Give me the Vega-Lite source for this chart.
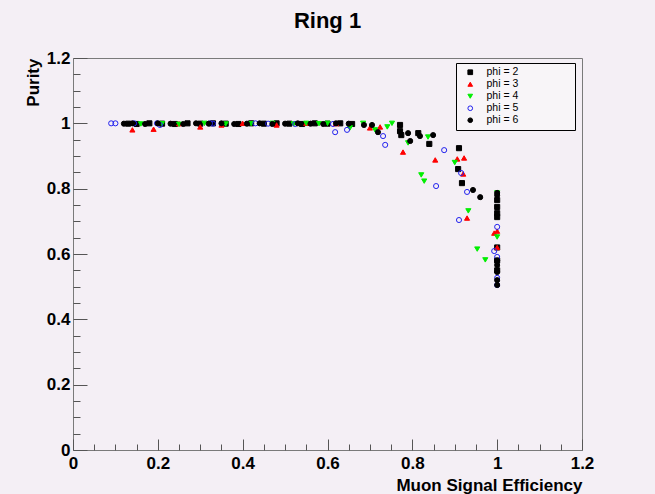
{
  "$schema": "https://vega.github.io/schema/vega-lite/v6.json",
  "width": 509,
  "height": 392,
  "autosize": "none",
  "padding": {"left": 73, "top": 58, "right": 73, "bottom": 44},
  "background": "#f4eff5",
  "title": {"text": "Ring 1", "font": "Liberation Sans", "fontSize": 22, "fontWeight": "bold", "color": "#000000", "offset": 16, "anchor": "middle"},
  "config": {
    "view": {"stroke": "#7a7a7a", "strokeWidth": 1, "fill": "#f4eff5"},
    "axis": {"grid": false, "domain": false, "labelFont": "Liberation Sans", "labelFontWeight": "bold", "labelFontSize": 17, "labelColor": "#000000", "titleFont": "Liberation Sans", "titleFontWeight": "bold", "titleFontSize": 17, "titleColor": "#000000", "tickColor": "#555555", "labelFlush": false, "labelOverlap": false},
    "legend": {"orient": "none", "legendX": 383, "legendY": 5, "padding": 4, "rowPadding": 1, "symbolSize": 22, "symbolStrokeWidth": 1, "symbolOffset": 5, "labelOffset": 11, "labelFont": "Liberation Sans", "labelFontSize": 10.5, "labelColor": "#000000", "fillColor": "#f8f5f8", "strokeColor": "#000000", "labelLimit": 300}
  },
  "data": {"values": [
    {"phi": "phi = 2", "eff": 0.13, "pur": 0.999},
    {"phi": "phi = 2", "eff": 0.15, "pur": 0.998},
    {"phi": "phi = 2", "eff": 0.18, "pur": 1.0},
    {"phi": "phi = 2", "eff": 0.21, "pur": 0.999},
    {"phi": "phi = 2", "eff": 0.24, "pur": 0.998},
    {"phi": "phi = 2", "eff": 0.27, "pur": 1.0},
    {"phi": "phi = 2", "eff": 0.30, "pur": 0.999},
    {"phi": "phi = 2", "eff": 0.33, "pur": 1.0},
    {"phi": "phi = 2", "eff": 0.36, "pur": 0.999},
    {"phi": "phi = 2", "eff": 0.39, "pur": 0.998},
    {"phi": "phi = 2", "eff": 0.42, "pur": 1.0},
    {"phi": "phi = 2", "eff": 0.45, "pur": 0.999},
    {"phi": "phi = 2", "eff": 0.48, "pur": 1.0},
    {"phi": "phi = 2", "eff": 0.51, "pur": 0.999},
    {"phi": "phi = 2", "eff": 0.54, "pur": 0.998},
    {"phi": "phi = 2", "eff": 0.57, "pur": 1.0},
    {"phi": "phi = 2", "eff": 0.60, "pur": 0.999},
    {"phi": "phi = 2", "eff": 0.63, "pur": 1.0},
    {"phi": "phi = 2", "eff": 0.658, "pur": 0.998},
    {"phi": "phi = 2", "eff": 0.771, "pur": 0.995},
    {"phi": "phi = 2", "eff": 0.771, "pur": 0.976},
    {"phi": "phi = 2", "eff": 0.774, "pur": 0.964},
    {"phi": "phi = 2", "eff": 0.814, "pur": 0.970},
    {"phi": "phi = 2", "eff": 0.840, "pur": 0.937},
    {"phi": "phi = 2", "eff": 0.910, "pur": 0.924},
    {"phi": "phi = 2", "eff": 0.908, "pur": 0.860},
    {"phi": "phi = 2", "eff": 0.917, "pur": 0.817},
    {"phi": "phi = 2", "eff": 1.0, "pur": 0.765},
    {"phi": "phi = 2", "eff": 1.0, "pur": 0.744},
    {"phi": "phi = 2", "eff": 1.0, "pur": 0.725},
    {"phi": "phi = 2", "eff": 1.0, "pur": 0.713},
    {"phi": "phi = 2", "eff": 1.0, "pur": 0.62},
    {"phi": "phi = 2", "eff": 1.0, "pur": 0.58},
    {"phi": "phi = 2", "eff": 1.0, "pur": 0.55},
    {"phi": "phi = 3", "eff": 0.14, "pur": 0.98},
    {"phi": "phi = 3", "eff": 0.19, "pur": 0.982},
    {"phi": "phi = 3", "eff": 0.25, "pur": 0.999},
    {"phi": "phi = 3", "eff": 0.30, "pur": 0.989},
    {"phi": "phi = 3", "eff": 0.35, "pur": 0.995},
    {"phi": "phi = 3", "eff": 0.40, "pur": 1.0},
    {"phi": "phi = 3", "eff": 0.48, "pur": 0.995},
    {"phi": "phi = 3", "eff": 0.55, "pur": 1.0},
    {"phi": "phi = 3", "eff": 0.62, "pur": 0.999},
    {"phi": "phi = 3", "eff": 0.70, "pur": 0.986},
    {"phi": "phi = 3", "eff": 0.724, "pur": 0.989},
    {"phi": "phi = 3", "eff": 0.778, "pur": 0.912},
    {"phi": "phi = 3", "eff": 0.854, "pur": 0.888},
    {"phi": "phi = 3", "eff": 0.906, "pur": 0.891},
    {"phi": "phi = 3", "eff": 0.922, "pur": 0.894},
    {"phi": "phi = 3", "eff": 0.92, "pur": 0.845},
    {"phi": "phi = 3", "eff": 0.929, "pur": 0.71},
    {"phi": "phi = 3", "eff": 0.993, "pur": 0.664},
    {"phi": "phi = 3", "eff": 1.0, "pur": 0.670},
    {"phi": "phi = 3", "eff": 1.0, "pur": 0.62},
    {"phi": "phi = 4", "eff": 0.16, "pur": 0.998},
    {"phi": "phi = 4", "eff": 0.21, "pur": 0.999},
    {"phi": "phi = 4", "eff": 0.25, "pur": 0.997},
    {"phi": "phi = 4", "eff": 0.31, "pur": 1.0},
    {"phi": "phi = 4", "eff": 0.36, "pur": 0.998},
    {"phi": "phi = 4", "eff": 0.42, "pur": 0.999},
    {"phi": "phi = 4", "eff": 0.47, "pur": 1.0},
    {"phi": "phi = 4", "eff": 0.52, "pur": 0.998},
    {"phi": "phi = 4", "eff": 0.55, "pur": 1.0},
    {"phi": "phi = 4", "eff": 0.58, "pur": 0.999},
    {"phi": "phi = 4", "eff": 0.60, "pur": 1.0},
    {"phi": "phi = 4", "eff": 0.653, "pur": 0.986},
    {"phi": "phi = 4", "eff": 0.684, "pur": 1.0},
    {"phi": "phi = 4", "eff": 0.712, "pur": 0.98},
    {"phi": "phi = 4", "eff": 0.741, "pur": 0.989},
    {"phi": "phi = 4", "eff": 0.752, "pur": 1.0},
    {"phi": "phi = 4", "eff": 0.79, "pur": 0.94},
    {"phi": "phi = 4", "eff": 0.837, "pur": 0.958},
    {"phi": "phi = 4", "eff": 0.90, "pur": 0.88},
    {"phi": "phi = 4", "eff": 0.821, "pur": 0.842},
    {"phi": "phi = 4", "eff": 0.828, "pur": 0.823},
    {"phi": "phi = 4", "eff": 0.932, "pur": 0.732},
    {"phi": "phi = 4", "eff": 0.953, "pur": 0.615},
    {"phi": "phi = 4", "eff": 0.972, "pur": 0.582},
    {"phi": "phi = 4", "eff": 1.0, "pur": 0.652},
    {"phi": "phi = 4", "eff": 1.0, "pur": 0.787},
    {"phi": "phi = 5", "eff": 0.09, "pur": 1.0},
    {"phi": "phi = 5", "eff": 0.10, "pur": 1.0},
    {"phi": "phi = 5", "eff": 0.144, "pur": 1.0},
    {"phi": "phi = 5", "eff": 0.198, "pur": 1.0},
    {"phi": "phi = 5", "eff": 0.205, "pur": 0.995},
    {"phi": "phi = 5", "eff": 0.323, "pur": 1.0},
    {"phi": "phi = 5", "eff": 0.33, "pur": 0.999},
    {"phi": "phi = 5", "eff": 0.43, "pur": 1.0},
    {"phi": "phi = 5", "eff": 0.46, "pur": 0.999},
    {"phi": "phi = 5", "eff": 0.524, "pur": 0.998},
    {"phi": "phi = 5", "eff": 0.613, "pur": 0.998},
    {"phi": "phi = 5", "eff": 0.618, "pur": 0.973},
    {"phi": "phi = 5", "eff": 0.646, "pur": 0.98},
    {"phi": "phi = 5", "eff": 0.731, "pur": 0.961},
    {"phi": "phi = 5", "eff": 0.736, "pur": 0.934},
    {"phi": "phi = 5", "eff": 0.875, "pur": 0.918},
    {"phi": "phi = 5", "eff": 0.856, "pur": 0.808},
    {"phi": "phi = 5", "eff": 0.915, "pur": 0.848},
    {"phi": "phi = 5", "eff": 0.929, "pur": 0.79},
    {"phi": "phi = 5", "eff": 0.91, "pur": 0.704},
    {"phi": "phi = 5", "eff": 1.0, "pur": 0.683},
    {"phi": "phi = 5", "eff": 0.993, "pur": 0.609},
    {"phi": "phi = 5", "eff": 1.0, "pur": 0.591},
    {"phi": "phi = 5", "eff": 1.0, "pur": 0.527},
    {"phi": "phi = 5", "eff": 1.0, "pur": 0.505},
    {"phi": "phi = 6", "eff": 0.12, "pur": 0.999},
    {"phi": "phi = 6", "eff": 0.14, "pur": 1.0},
    {"phi": "phi = 6", "eff": 0.17, "pur": 0.998},
    {"phi": "phi = 6", "eff": 0.20, "pur": 1.0},
    {"phi": "phi = 6", "eff": 0.23, "pur": 0.999},
    {"phi": "phi = 6", "eff": 0.26, "pur": 0.998},
    {"phi": "phi = 6", "eff": 0.29, "pur": 1.0},
    {"phi": "phi = 6", "eff": 0.32, "pur": 0.999},
    {"phi": "phi = 6", "eff": 0.35, "pur": 1.0},
    {"phi": "phi = 6", "eff": 0.38, "pur": 0.998},
    {"phi": "phi = 6", "eff": 0.41, "pur": 0.999},
    {"phi": "phi = 6", "eff": 0.44, "pur": 1.0},
    {"phi": "phi = 6", "eff": 0.47, "pur": 0.998},
    {"phi": "phi = 6", "eff": 0.50, "pur": 0.999},
    {"phi": "phi = 6", "eff": 0.53, "pur": 1.0},
    {"phi": "phi = 6", "eff": 0.56, "pur": 0.999},
    {"phi": "phi = 6", "eff": 0.59, "pur": 0.998},
    {"phi": "phi = 6", "eff": 0.62, "pur": 1.0},
    {"phi": "phi = 6", "eff": 0.65, "pur": 0.999},
    {"phi": "phi = 6", "eff": 0.686, "pur": 0.995},
    {"phi": "phi = 6", "eff": 0.705, "pur": 0.995},
    {"phi": "phi = 6", "eff": 0.719, "pur": 0.973},
    {"phi": "phi = 6", "eff": 0.79, "pur": 0.97},
    {"phi": "phi = 6", "eff": 0.795, "pur": 0.946},
    {"phi": "phi = 6", "eff": 0.818, "pur": 0.961},
    {"phi": "phi = 6", "eff": 0.849, "pur": 0.964},
    {"phi": "phi = 6", "eff": 0.943, "pur": 0.796},
    {"phi": "phi = 6", "eff": 0.96, "pur": 0.774},
    {"phi": "phi = 6", "eff": 1.0, "pur": 0.787},
    {"phi": "phi = 6", "eff": 1.0, "pur": 0.78},
    {"phi": "phi = 6", "eff": 1.0, "pur": 0.58},
    {"phi": "phi = 6", "eff": 1.0, "pur": 0.566},
    {"phi": "phi = 6", "eff": 1.0, "pur": 0.545},
    {"phi": "phi = 6", "eff": 1.0, "pur": 0.52},
    {"phi": "phi = 6", "eff": 1.0, "pur": 0.505}
  ]},
  "mark": {"type": "point", "size": 26, "strokeWidth": 1, "opacity": 1},
  "encoding": {
    "x": {"field": "eff", "type": "quantitative", "scale": {"domain": [0, 1.2], "nice": false, "zero": false},
      "axis": {"title": "Muon Signal Efficiency", "titleAnchor": "end", "titleY": 40, "titleBaseline": "alphabetic",
        "values": [0,0.05,0.1,0.15,0.2,0.25,0.3,0.35,0.4,0.45,0.5,0.55,0.6,0.65,0.7,0.75,0.8,0.85,0.9,0.95,1,1.05,1.1,1.15,1.2],
        "labelExpr": "abs(datum.value*5 - round(datum.value*5)) < 0.001 ? format(datum.value, '~g') : ''",
        "tickSize": {"condition": {"test": "abs(datum.value*5 - round(datum.value*5)) < 0.001", "value": -11}, "value": -6},
        "labelPadding": 16}},
    "y": {"field": "pur", "type": "quantitative", "scale": {"domain": [0, 1.2], "nice": false, "zero": false},
      "axis": {"title": "Purity", "titleAnchor": "end", "titlePadding": 4,
        "values": [0,0.05,0.1,0.15,0.2,0.25,0.3,0.35,0.4,0.45,0.5,0.55,0.6,0.65,0.7,0.75,0.8,0.85,0.9,0.95,1,1.05,1.1,1.15,1.2],
        "labelExpr": "abs(datum.value*5 - round(datum.value*5)) < 0.001 ? format(datum.value, '~g') : ''",
        "tickSize": {"condition": {"test": "abs(datum.value*5 - round(datum.value*5)) < 0.001", "value": -14}, "value": -7},
        "labelPadding": 17}},
    "shape": {"field": "phi", "type": "nominal", "scale": {"domain": ["phi = 2","phi = 3","phi = 4","phi = 5","phi = 6"], "range": ["square","triangle-up","triangle-down","circle","circle"]},
      "legend": {"title": null, "labelExpr": "datum.label + '\u2003\u2003\u2003\u2003\u2003\u200b'"}},
    "fill": {"field": "phi", "type": "nominal", "scale": {"domain": ["phi = 2","phi = 3","phi = 4","phi = 5","phi = 6"], "range": ["#000000","#ff0000","#00ee00","transparent","#000000"]},
      "legend": {"title": null, "labelExpr": "datum.label + '\u2003\u2003\u2003\u2003\u2003\u200b'"}},
    "stroke": {"field": "phi", "type": "nominal", "scale": {"domain": ["phi = 2","phi = 3","phi = 4","phi = 5","phi = 6"], "range": ["#000000","#ff0000","#00ee00","#2222ee","#000000"]},
      "legend": {"title": null, "labelExpr": "datum.label + '\u2003\u2003\u2003\u2003\u2003\u200b'"}}
  }
}
